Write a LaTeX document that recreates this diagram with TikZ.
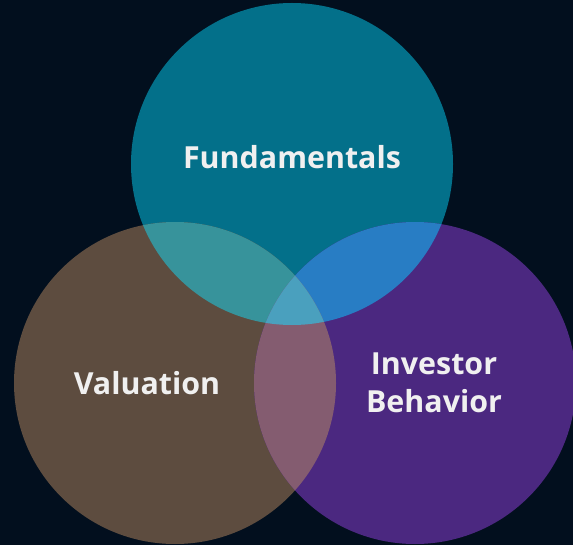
\documentclass[tikz,border=0pt]{standalone}
\usepackage{fontspec}
\setmainfont{Open Sans}
\definecolor{bg}{HTML}{020F1E}
\definecolor{cTop}{HTML}{03708A}
\definecolor{cLeft}{HTML}{5D4C3F}
\definecolor{cRight}{HTML}{4B2880}
\definecolor{cTL}{HTML}{37939B}
\definecolor{cTR}{HTML}{287DC4}
\definecolor{cLR}{HTML}{845C70}
\definecolor{cAll}{HTML}{4AA0BE}
\definecolor{txt}{HTML}{F0F0F0}
\begin{document}
\begin{tikzpicture}[x=1bp,y=-1bp,
  lbl/.style={text=txt,font=\fontsize{30.5}{38}\selectfont\fontseries{sb}\selectfont,align=center,inner sep=0pt}]
\fill[bg] (0,0) rectangle (573,545);
\useasboundingbox (0,0) rectangle (573,545);
\def\R{161}
\coordinate (T) at (292,164);
\coordinate (L) at (175,383);
\coordinate (Rt) at (415,383);
\fill[cTop] (T) circle (\R);
\fill[cLeft] (L) circle (\R);
\fill[cRight] (Rt) circle (\R);
\begin{scope}
  \clip (T) circle (\R);
  \fill[cTL] (L) circle (\R);
  \fill[cTR] (Rt) circle (\R);
\end{scope}
\begin{scope}
  \clip (L) circle (\R);
  \fill[cLR] (Rt) circle (\R);
  \clip (Rt) circle (\R);
  \fill[cAll] (T) circle (\R);
\end{scope}
\node[lbl] (fund) at (292,157) {Fundamentals};
\node[lbl] (val) at (147,383) {Valuation};
\node[lbl] (inv) at (434,383) {Investor\\Behavior};
\end{tikzpicture}
\end{document}
